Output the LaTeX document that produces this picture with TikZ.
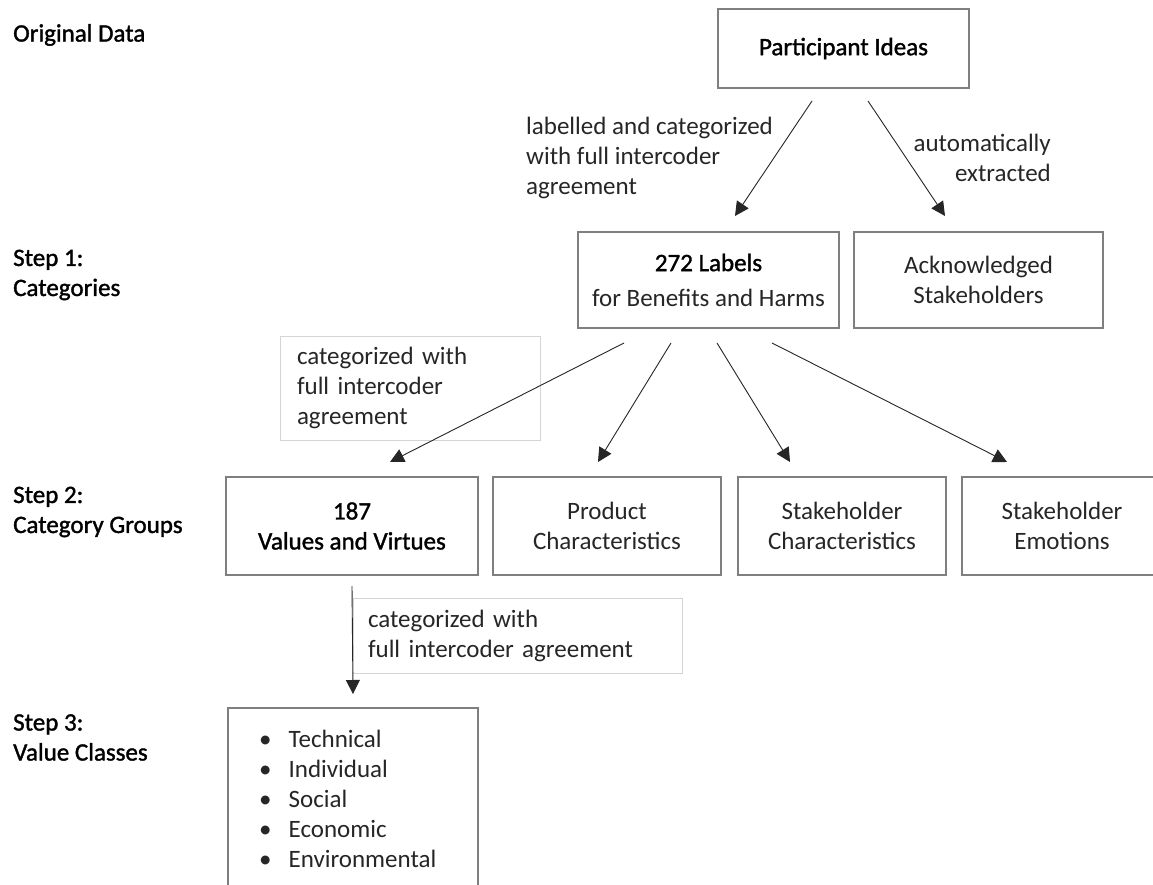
\documentclass[tikz,border=0pt]{standalone}
\usepackage{fontspec}
\setmainfont{Carlito}
\newfontfamily\headfont[FakeBold=1.4]{Carlito}
\usetikzlibrary{arrows.meta}
\definecolor{boxgray}{HTML}{7F7F7F}
\definecolor{notegray}{HTML}{D4D4D4}
\definecolor{inkgray}{HTML}{262626}
\tikzset{
  base/.style={font=\fontsize{25}{30}\selectfont, text=inkgray},
  stagebox/.style={base, draw=boxgray, line width=2pt, align=center, inner sep=0pt},
  notebox/.style={base, draw=notegray, line width=1pt, inner ysep=0pt, align=left},
  notetext/.style={base, inner sep=0pt},
  steplabel/.style={font=\headfont\fontsize{25}{30}\selectfont, text=black, align=left, anchor=west, inner sep=0pt},
  flow/.style={draw=black!85, line width=0.9pt, -{Triangle[length=14pt,width=14pt]}},
}
\begin{document}
\begin{tikzpicture}[x=1pt,y=1pt]
  \useasboundingbox (0,0) rectangle (1153,-885);
  \fill[white] (0,0) rectangle (1153,-885);
  \clip (0,0) rectangle (1153,-885);

  % stage labels on the left
  \node[steplabel] (orig)  at (13,-35)    {Original Data};
  \node[steplabel] (step1) at (13,-275)   {Step 1:\\Categories};
  \node[steplabel] (step2) at (13,-512)   {Step 2:\\Category Groups};
  \node[steplabel] (step3) at (13,-737.5) {Step 3:\\Value Classes};

  % source
  \node[stagebox, minimum width=251pt, minimum height=79pt] (ideas) at (843.5,-48.5)
    {{\headfont\color{black}Participant Ideas}};

  % step 1
  \node[stagebox, minimum width=261pt, minimum height=96pt] (labels) at (708.5,-280)
    {{\headfont\color{black}272 Labels}\\[5pt]for Benefits and Harms};
  \node[stagebox, minimum width=249pt, minimum height=96pt] (ack) at (978.5,-280)
    {Acknowledged\\Stakeholders};

  % step 2
  \node[stagebox, minimum width=252pt, minimum height=98pt] (values) at (352,-526)
    {{\headfont\color{black}187}\\{\headfont\color{black}Values and Virtues}};
  \node[stagebox, minimum width=228pt, minimum height=98pt] (product) at (607,-526)
    {Product\\Characteristics};
  \node[stagebox, minimum width=208pt, minimum height=98pt] (stakechar) at (842,-526)
    {Stakeholder\\Characteristics};
  \node[stagebox, minimum width=200pt, minimum height=98pt] (emotions) at (1062,-526)
    {Stakeholder\\Emotions};

  % step 3
  \node[stagebox, minimum width=250pt, minimum height=182pt] (classes) at (353,-799) {};
  \node[notetext, anchor=west, align=left] (classlist) at (259,-798.5)
    {\textbullet\hspace{17pt}Technical\\
     \textbullet\hspace{17pt}Individual\\
     \textbullet\hspace{17pt}Social\\
     \textbullet\hspace{17pt}Economic\\
     \textbullet\hspace{17pt}Environmental};

  % annotations
  \node[notetext, anchor=west, align=left] (labnote) at (526,-157.5)
    {labelled and categorized\\with full intercoder\\agreement};
  \node[notetext, anchor=east, align=right] (autonote) at (1051,-157.5)
    {automatically\\extracted};
  \node[notebox, inner xsep=17pt, text width=226pt, minimum height=104pt] (catnote) at (410,-388)
    {categorized with\\full intercoder\\agreement};
  \node[notebox, inner xsep=15pt, text width=299pt, minimum height=75pt] (classnote) at (517.5,-635.5)
    {categorized with\\full intercoder agreement};

  % connectors
  \draw[flow] ([xshift=-31.5pt,yshift=-12pt]ideas.south) -- ([xshift=26.5pt,yshift=15pt]labels.north);
  \draw[flow] ([xshift=24.5pt,yshift=-12pt]ideas.south) -- ([xshift=-33.5pt,yshift=15pt]ack.north);
  \draw[flow] ([xshift=-84.5pt,yshift=-14pt]labels.south) -- ([xshift=38pt,yshift=14pt]values.north);
  \draw[flow] ([xshift=-37.5pt,yshift=-14pt]labels.south) -- ([xshift=-9pt,yshift=14pt]product.north);
  \draw[flow] ([xshift=8.5pt,yshift=-14pt]labels.south) -- ([xshift=-52pt,yshift=14pt]stakechar.north);
  \draw[flow] ([xshift=63.5pt,yshift=-14pt]labels.south) -- ([xshift=-55pt,yshift=14pt]emotions.north);
  \draw[flow] ([yshift=-10pt]values.south) -- ([yshift=13pt]classes.north);
\end{tikzpicture}
\end{document}
